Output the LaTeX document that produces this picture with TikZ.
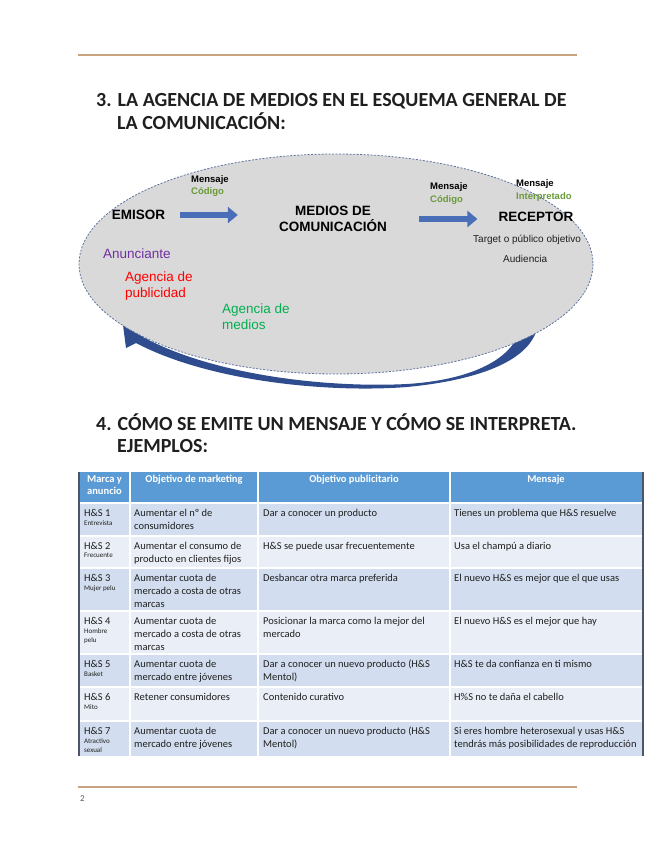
\documentclass[tikz,border=0pt]{standalone}
\usepackage{fontspec}
\setmainfont{Carlito}
\newfontfamily\arialfont{Liberation Sans}
\usetikzlibrary{arrows.meta,positioning}
\definecolor{rulegold}{HTML}{C8A47E}
\definecolor{ink}{HTML}{1F1F1F}
\definecolor{ovalgray}{HTML}{D9D9D9}
\definecolor{ovaledge}{HTML}{5E72A0}
\definecolor{arrowblue}{HTML}{4A6FB8}
\definecolor{swooshblue}{HTML}{2F4D8E}
\definecolor{codegreen}{HTML}{6A9A3A}
\definecolor{advpurple}{HTML}{7030A0}
\definecolor{agencyred}{HTML}{FF0000}
\definecolor{mediagreen}{HTML}{00B050}
\definecolor{headblue}{HTML}{5B9BD5}
\definecolor{rowdark}{HTML}{D2DEEF}
\definecolor{rowlight}{HTML}{EAEFF7}
\definecolor{tableedge}{HTML}{4D5566}
\definecolor{pagegray}{HTML}{595959}
\tikzset{
  heading/.style={
    anchor=base west,
    inner sep=0pt,
    text=ink,
    font=\fontsize{20}{22}\selectfont\bfseries
  },
  actor/.style={
    inner sep=0pt,
    align=center,
    text=black,
    font=\arialfont\bfseries\fontsize{13.5}{16}\selectfont
  },
  msg/.style={
    anchor=base west,
    inner sep=0pt,
    font=\arialfont\bfseries\fontsize{9.5}{11}\selectfont
  },
  role/.style={
    anchor=north west,
    inner sep=0pt,
    align=left,
    font=\arialfont\fontsize{13.5}{16}\selectfont
  },
  audience/.style={
    anchor=base west,
    inner sep=0pt,
    text=ink,
    font=\arialfont\fontsize{10}{12}\selectfont
  },
  flow/.style={
    -{Triangle[length=10pt,width=16pt]},
    draw=arrowblue,
    line width=6.5pt
  },
  headcell/.style={
    anchor=north,
    inner sep=0pt,
    align=center,
    text=white,
    font=\fontsize{10.5}{12.5}\selectfont\bfseries
  },
  cell/.style={
    anchor=north west,
    inner sep=0pt,
    align=left,
    text=ink,
    font=\fontsize{10.5}{12.8}\selectfont
  },
  tag/.style={
    anchor=north west,
    inner sep=0pt,
    align=left,
    text=ink,
    font=\fontsize{7}{9}\selectfont
  },
  pagerule/.style={
    draw=rulegold,
    line width=2pt
  }
}

\begin{document}
\begin{tikzpicture}[x=1pt,y=-1pt]
  \useasboundingbox (0,0) rectangle (655,848);
  \draw[pagerule] (78,55) -- (577,55);

  \node[heading] (title3) at (96,107)
    {3. LA AGENCIA DE MEDIOS EN EL ESQUEMA GENERAL DE};
  \node[heading] (title3b) at (117,129) {LA COMUNICACIÓN:};

  % swoosh behind the oval
  \fill[swooshblue] (538,324) .. controls (533,360) and (480,380) .. (407,387)
    .. controls (330,393) and (210,382) .. (136,343)
    -- (126,348) -- (123,325) -- (148,331) -- (143,337)
    .. controls (215,376) and (330,388) .. (407,384)
    .. controls (470,380) and (515,360) .. (522,324) -- cycle;

  \filldraw[fill=ovalgray, draw=ovaledge, line width=0.8pt,
    dash pattern=on 2pt off 1.5pt] (336,264) ellipse [x radius=257, y radius=110];

  \node[msg] (msg1) at (191,182) {Mensaje};
  \node[msg, text=codegreen] (code1) at (191,194) {Código};
  \node[actor] (emisor) at (138.5,215) {EMISOR};
  \node[actor] (medios) at (333,219) {MEDIOS DE\\COMUNICACIÓN};
  \node[msg] (msg2) at (430,189) {Mensaje};
  \node[msg, text=codegreen] (code2) at (430,202) {Código};
  \node[msg] (msg3) at (516,186) {Mensaje};
  \node[msg, text=codegreen] (interp) at (516,199) {Interpretado};
  \node[actor] (receptor) at (536,217) {RECEPTOR};
  \node[audience] (target) at (473,242) {Target o público objetivo};
  \node[audience] (audiencia) at (503,262) {Audiencia};

  \node[role, text=advpurple] (anunciante) at (103,249) {Anunciante};
  \node[role, text=agencyred] (agpub) at (125,272) {Agencia de\\publicidad};
  \node[role, text=mediagreen] (agmed) at (222,304) {Agencia de\\medios};

  \draw[flow, shorten <=15pt, shorten >=41pt] (emisor.east) -- (emisor.east -| medios.west);
  \draw[flow, shorten <=32pt, shorten >=21pt] (medios.east) -- (medios.east -| receptor.west);

  \node[heading] (title4) at (96,430)
    {4. CÓMO SE EMITE UN MENSAJE Y CÓMO SE INTERPRETA.};
  \node[heading] (title4b) at (117,452) {EJEMPLOS:};

  % table rows
  \fill[headblue] (79,472) rectangle (643,503);
  \fill[rowdark] (79,503) rectangle (643,536);
  \fill[rowlight] (79,536) rectangle (643,568);
  \fill[rowdark] (79,568) rectangle (643,611);
  \fill[rowlight] (79,611) rectangle (643,654);
  \fill[rowdark] (79,654) rectangle (643,687);
  \fill[rowlight] (79,687) rectangle (643,721);
  \fill[rowdark] (79,721) rectangle (643,756);
  \draw[white, line width=2pt] (79,503) -- (643,503);
  \draw[white, line width=1.2pt] (79,536) -- (643,536);
  \draw[white, line width=1.2pt] (79,568) -- (643,568);
  \draw[white, line width=1.2pt] (79,611) -- (643,611);
  \draw[white, line width=1.2pt] (79,654) -- (643,654);
  \draw[white, line width=1.2pt] (79,687) -- (643,687);
  \draw[white, line width=1.2pt] (79,721) -- (643,721);
  \draw[white, line width=1.2pt] (130,472) -- (130,756);
  \draw[white, line width=1.2pt] (258,472) -- (258,756);
  \draw[white, line width=1.2pt] (450,472) -- (450,756);
  \draw[tableedge, line width=2.5pt] (79,472) -- (79,756);
  \draw[tableedge, line width=1.2pt] (643,472) -- (643,756);

  \node[headcell] (hmarca) at (104.5,475) {Marca y\\anuncio};
  \node[headcell] (hmkt) at (194,475) {Objetivo de marketing};
  \node[headcell] (hpub) at (354,475) {Objetivo publicitario};
  \node[headcell] (hmsg) at (546,475) {Mensaje};

  \node[cell] (hs1) at (84,509) {H\&S 1};
  \node[tag] (hs1tag) at (84,520) {Entrevista};
  \node[cell] (mkt1) at (134,509) {Aumentar el nº de\\consumidores};
  \node[cell] (pub1) at (263,509) {Dar a conocer un producto};
  \node[cell] (msgrow1) at (454,509) {Tienes un problema que H\&S resuelve};

  \node[cell] (hs2) at (84,542) {H\&S 2};
  \node[tag] (hs2tag) at (84,553) {Frecuente};
  \node[cell] (mkt2) at (134,542) {Aumentar el consumo de\\producto en clientes fijos};
  \node[cell] (pub2) at (263,542) {H\&S se puede usar frecuentemente};
  \node[cell] (msgrow2) at (454,542) {Usa el champú a diario};

  \node[cell] (hs3) at (84,574) {H\&S 3};
  \node[tag] (hs3tag) at (84,585) {Mujer pelu};
  \node[cell] (mkt3) at (134,574) {Aumentar cuota de\\mercado a costa de otras\\marcas};
  \node[cell] (pub3) at (263,574) {Desbancar otra marca preferida};
  \node[cell] (msgrow3) at (454,574) {El nuevo H\&S es mejor que el que usas};

  \node[cell] (hs4) at (84,617) {H\&S 4};
  \node[tag] (hs4tag) at (84,628) {Hombre\\pelu};
  \node[cell] (mkt4) at (134,617) {Aumentar cuota de\\mercado a costa de otras\\marcas};
  \node[cell] (pub4) at (263,617) {Posicionar la marca como la mejor del\\mercado};
  \node[cell] (msgrow4) at (454,617) {El nuevo H\&S es el mejor que hay};

  \node[cell] (hs5) at (84,660) {H\&S 5};
  \node[tag] (hs5tag) at (84,671) {Basket};
  \node[cell] (mkt5) at (134,660) {Aumentar cuota de\\mercado entre jóvenes};
  \node[cell] (pub5) at (263,660) {Dar a conocer un nuevo producto (H\&S\\Mentol)};
  \node[cell] (msgrow5) at (454,660) {H\&S te da confianza en ti mismo};

  \node[cell] (hs6) at (84,693) {H\&S 6};
  \node[tag] (hs6tag) at (84,704) {Mito};
  \node[cell] (mkt6) at (134,693) {Retener consumidores};
  \node[cell] (pub6) at (263,693) {Contenido curativo};
  \node[cell] (msgrow6) at (454,693) {H\%S no te daña el cabello};

  \node[cell] (hs7) at (84,727) {H\&S 7};
  \node[tag] (hs7tag) at (84,738) {Atractivo\\sexual};
  \node[cell] (mkt7) at (134,727) {Aumentar cuota de\\mercado entre jóvenes};
  \node[cell] (pub7) at (263,727) {Dar a conocer un nuevo producto (H\&S\\Mentol)};
  \node[cell] (msgrow7) at (454,727)
    {Si eres hombre heterosexual y usas H\&S\\tendrás más posibilidades de reproducción};

  \draw[pagerule] (78,787) -- (577,787);
  \node[anchor=base west, inner sep=0pt, text=pagegray, font=\fontsize{9}{10}\selectfont]
    (pagenum) at (80,801) {2};
\end{tikzpicture}
\end{document}
